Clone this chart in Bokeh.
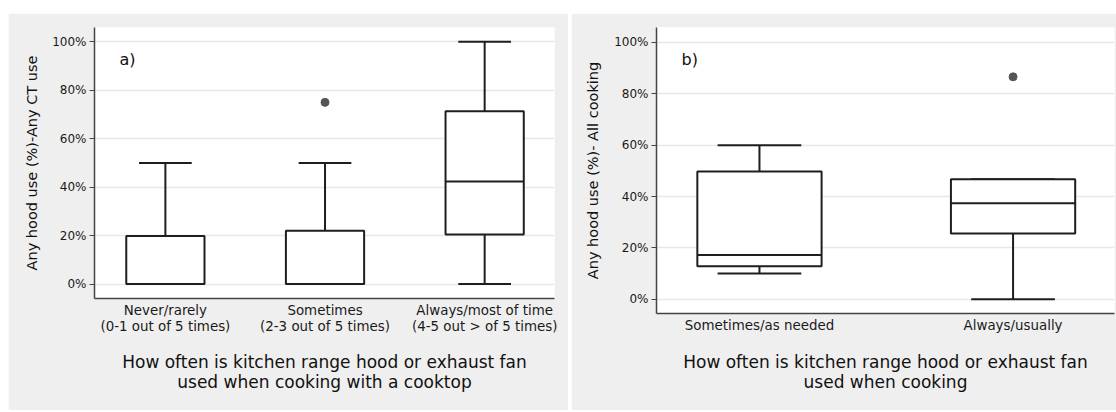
from bokeh.plotting import figure
from bokeh.layouts import row
from bokeh.models import FixedTicker, PrintfTickFormatter, Label, Range1d, ColumnDataSource
from bokeh.embed import file_html
from bokeh.resources import INLINE

# ---------------- data ----------------
# Panel a
cats_a = ["Never/rarely\n(0-1 out of 5 times)",
          "Sometimes\n(2-3 out of 5 times)",
          "Always/most of time\n(4-5 out > of 5 times)"]
a_low = [0, 0, 0]
a_q1 = [0, 0, 20.5]
a_med = [0, 0, 42.3]
a_q3 = [19.8, 22.0, 71.3]
a_high = [50, 50, 100]
a_out_idx = [1]
a_out_val = [75]
title_a_x = "How often is kitchen range hood or exhaust fan\nused when cooking with a cooktop"
title_a_y = "Any hood use (%)-Any CT use"

# Panel b
cats_b = ["Sometimes/as needed", "Always/usually"]
b_low = [10.1, 0]
b_q1 = [12.9, 25.6]
b_med = [17.3, 37.4]
b_q3 = [49.8, 46.7]
b_high = [60, 46.7]
b_out_idx = [1]
b_out_val = [86.6]
title_b_x = "How often is kitchen range hood or exhaust fan\nused when cooking"
title_b_y = "Any hood use (%)- All cooking"

y_ticks = [0, 20, 40, 60, 80, 100]

FONT = "DejaVu Sans"
PANEL_BG = "#efefef"
LINE = "#1e1e1e"


def panel(cats, low, q1, med, q3, high, out_idx, out_val, xtitle, ytitle, tag,
          width, height, xr, yr, borders, tag_pos, ylab_standoff, xlab_standoff, margin):
    n = len(cats)
    xs = [i + 1 for i in range(n)]
    p = figure(width=width, height=height, output_backend="svg", toolbar_location=None,
               x_range=Range1d(*xr), y_range=Range1d(*yr),
               min_border_left=borders[0], min_border_right=borders[1],
               min_border_top=borders[2], min_border_bottom=borders[3])
    p.frame_align = False
    p.margin = margin
    p.border_fill_color = PANEL_BG
    p.background_fill_color = "white"
    p.outline_line_color = None

    bw = 0.49
    cw = 0.33
    src = ColumnDataSource(dict(
        x=xs, left=[x - bw / 2 for x in xs], right=[x + bw / 2 for x in xs],
        cl=[x - cw / 2 for x in xs], cr=[x + cw / 2 for x in xs],
        low=low, q1=q1, med=med, q3=q3, high=high))

    # whiskers
    p.segment(x0="x", y0="q3", x1="x", y1="high", source=src, line_color=LINE, line_width=2)
    p.segment(x0="x", y0="low", x1="x", y1="q1", source=src, line_color=LINE, line_width=2)
    # caps
    p.segment(x0="cl", y0="high", x1="cr", y1="high", source=src, line_color=LINE, line_width=2)
    p.segment(x0="cl", y0="low", x1="cr", y1="low", source=src, line_color=LINE, line_width=2)
    # boxes
    p.quad(left="left", right="right", bottom="q1", top="q3", source=src,
           fill_color="white", line_color=LINE, line_width=2)
    # medians
    p.segment(x0="left", y0="med", x1="right", y1="med", source=src, line_color=LINE, line_width=2)
    # outliers
    p.scatter([xs[i] for i in out_idx], out_val, size=8, marker="circle",
              fill_color="#555555", line_color="#555555")

    # axes
    xa = p.xaxis[0]
    xa.ticker = FixedTicker(ticks=xs)
    xa.major_label_overrides = {x: c for x, c in zip(xs, cats)}
    xa.major_tick_line_color = None
    xa.minor_tick_line_color = None
    xa.major_tick_out = 0
    xa.major_label_standoff = 4
    xa.major_label_text_font = FONT
    xa.major_label_text_font_size = "13.4px"
    xa.major_label_text_color = "#1a1a1a"
    xa.major_label_text_line_height = 1.1
    xa.axis_line_color = "#444444"
    xa.axis_line_width = 1.5
    xa.axis_label = xtitle
    xa.axis_label_text_font = FONT
    xa.axis_label_text_font_size = "17px"
    xa.axis_label_text_font_style = "normal"
    xa.axis_label_text_color = "#111111"
    xa.axis_label_text_line_height = 1.0
    xa.axis_label_standoff = xlab_standoff

    ya = p.yaxis[0]
    ya.ticker = FixedTicker(ticks=y_ticks)
    ya.formatter = PrintfTickFormatter(format="%d%%")
    ya.major_tick_out = 5
    ya.major_tick_in = 0
    ya.minor_tick_line_color = None
    ya.major_tick_line_color = "#444444"
    ya.major_label_standoff = 3
    ya.major_label_text_font = FONT
    ya.major_label_text_font_size = "12px"
    ya.major_label_text_color = "#1a1a1a"
    ya.axis_line_color = "#444444"
    ya.axis_line_width = 1.5
    ya.axis_label = ytitle
    ya.axis_label_text_font = FONT
    ya.axis_label_text_font_size = "14.5px"
    ya.axis_label_text_font_style = "normal"
    ya.axis_label_text_color = "#111111"
    ya.axis_label_standoff = ylab_standoff

    p.xgrid.visible = False
    p.ygrid.grid_line_color = "#e8e8e8"
    p.ygrid.grid_line_width = 1.5

    p.add_layout(Label(x=tag_pos[0], y=tag_pos[1], text=tag, text_font=FONT,
                       text_font_size="16px", text_baseline="middle", text_align="left",
                       text_color="#111111"))
    return p


pa = panel(cats_a, a_low, a_q1, a_med, a_q3, a_high, a_out_idx, a_out_val,
           title_a_x, title_a_y, "a)",
           width=560, height=397, xr=(0.556, 3.4375), yr=(-5.95, 105.9),
           borders=(86, 14, 14, 112), tag_pos=(0.7125, 92.7), ylab_standoff=9,
           xlab_standoff=15, margin=(13, 0, 0, 8))
pb = panel(cats_b, b_low, b_q1, b_med, b_q3, b_high, b_out_idx, b_out_val,
           title_b_x, title_b_y, "b)",
           width=545, height=397, xr=(0.594, 2.40), yr=(-5.5, 105.8),
           borders=(85, 2, 14, 97), tag_pos=(0.693, 93.4), ylab_standoff=10,
           xlab_standoff=16, margin=(13, 0, 0, 3))

layout = row(pa, pb)
open("out.html", "w").write(file_html(layout, INLINE))
